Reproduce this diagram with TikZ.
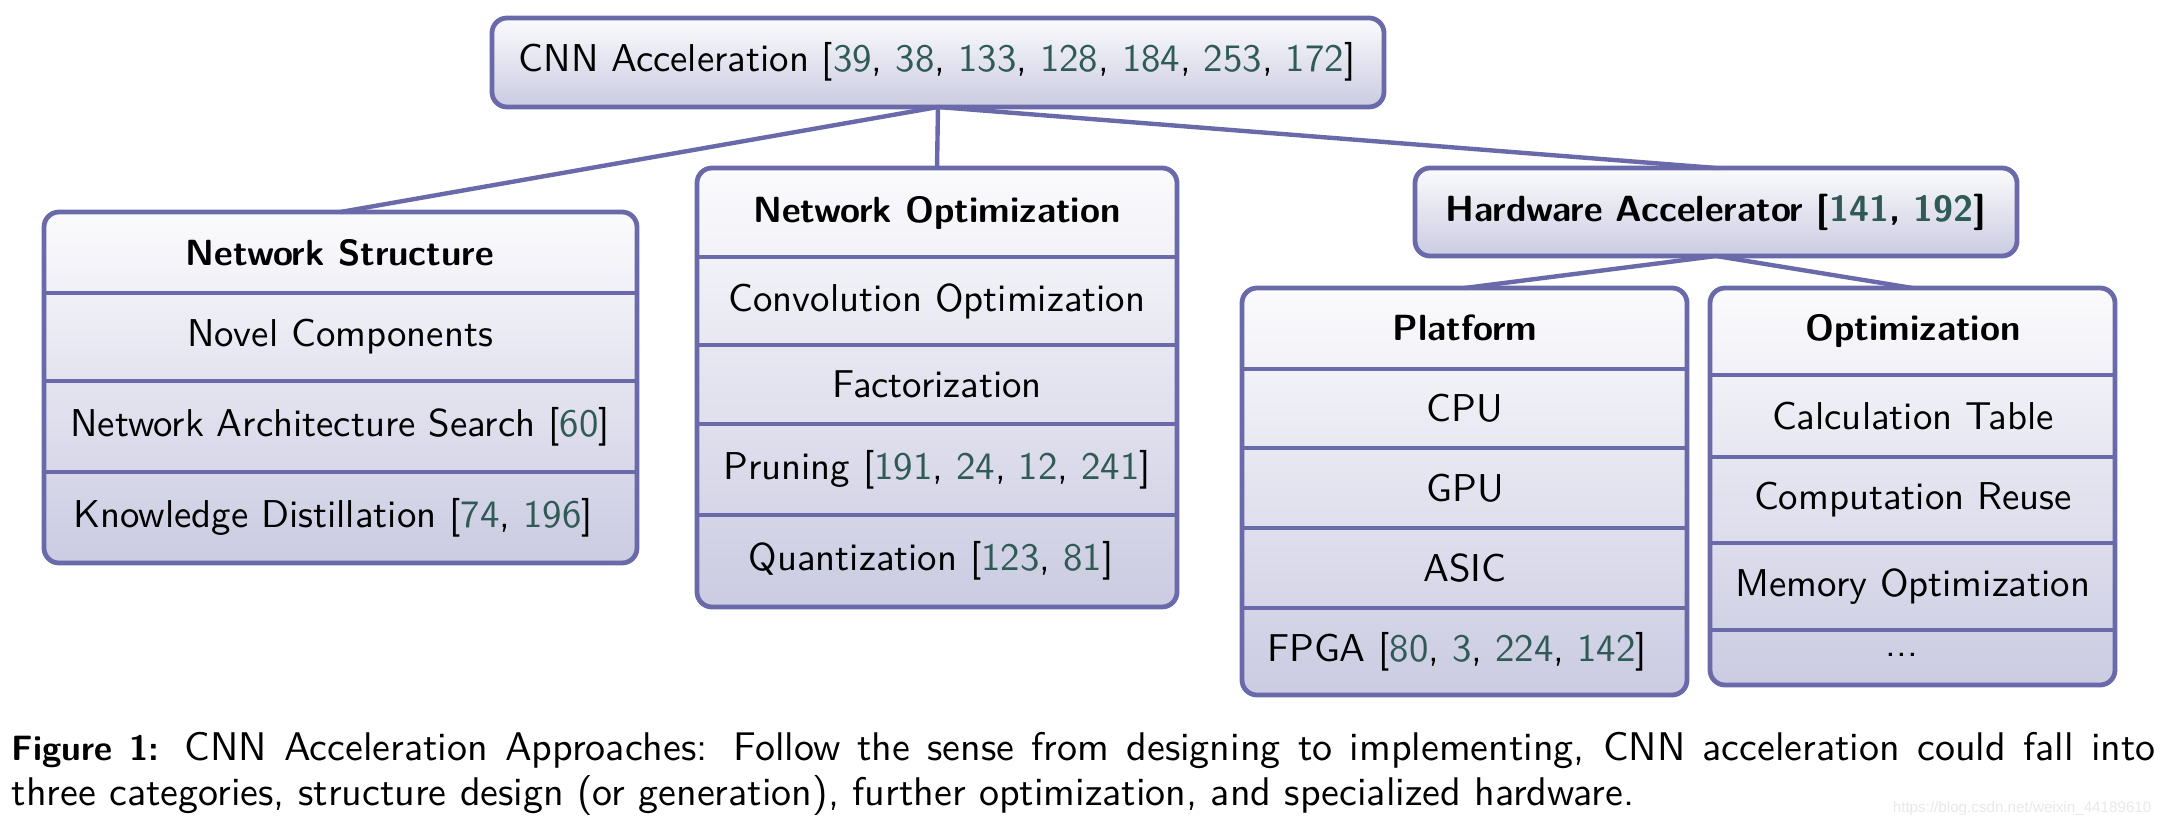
\documentclass[tikz,border=0pt]{standalone}
\usepackage{fontspec}
\usetikzlibrary{fit}
\newfontfamily\wmfont{Liberation Sans}
\definecolor{bord}{HTML}{6A6AAA}
\definecolor{ftop}{HTML}{FBFBFD}
\definecolor{fbot}{HTML}{CBCBE2}
\definecolor{citec}{HTML}{2F5A56}
\newcommand{\cit}[1]{\textcolor{citec}{#1}}
\begin{document}
\begin{tikzpicture}[x=0.25pt,y=-0.25pt,
  box/.style={draw=bord, line width=1.2pt, rounded corners=3.75pt, top color=ftop, bottom color=fbot, inner sep=0pt, outer sep=0pt},
  sepline/.style={draw=bord, line width=1pt},
  conn/.style={draw=bord, line width=1.1pt},
  txt/.style={font=\sffamily\fontsize{9.7}{11.6}\selectfont, inner sep=0pt},
  hd/.style={font=\sffamily\bfseries\fontsize{9.1}{11}\selectfont, inner sep=0pt}]
\useasboundingbox (0,0) rectangle (2173,825);

% boxes
\node[box, fit={(492,18) (1384,107)}] (root) {};
\node[box, fit={(44,212) (637,563)}] (ns) {};
\node[box, fit={(697,168) (1177,607)}] (no) {};
\node[box, fit={(1415,168) (2017,256)}] (ha) {};
\node[box, fit={(1242,288) (1687,695)}] (plat) {};
\node[box, fit={(1710,288) (2115,685)}] (opt) {};

% separators
\foreach \yy in {293,381,472} \draw[sepline] (ns.west |- 0,\yy) -- (ns.east |- 0,\yy);
\foreach \yy in {257,345,424,515} \draw[sepline] (no.west |- 0,\yy) -- (no.east |- 0,\yy);
\foreach \yy in {369,448,528,608} \draw[sepline] (plat.west |- 0,\yy) -- (plat.east |- 0,\yy);
\foreach \yy in {375,457,543,630} \draw[sepline] (opt.west |- 0,\yy) -- (opt.east |- 0,\yy);

% connectors
\draw[conn] (root.south) -- (ns.north);
\draw[conn] (root.south) -- (no.north);
\draw[conn] (root.south) -- (ha.north);
\draw[conn] (ha.south) -- (plat.north);
\draw[conn] (ha.south) -- (opt.north);

% texts
\node[txt] (roott) at (937,62) {CNN Acceleration [\cit{39}, \cit{38}, \cit{133}, \cit{128}, \cit{184}, \cit{253}, \cit{172}]};

\node[hd] (ns0) at (340,252.5) {Network Structure};
\node[txt] (ns1) at (340,337) {Novel Components};
\node[txt] (ns2) at (340,426.5) {Network Architecture Search [\cit{60}]};
\node[txt] (ns3) at (333,517.5) {Knowledge Distillation [\cit{74}, \cit{196}]};

\node[hd] (no0) at (937,212.5) {Network Optimization};
\node[txt] (no1) at (937,301) {Convolution Optimization};
\node[txt] (no2) at (937,384.5) {Factorization};
\node[txt] (no3) at (937,469.5) {Pruning [\cit{191}, \cit{24}, \cit{12}, \cit{241}]};
\node[txt] (no4) at (931,561) {Quantization [\cit{123}, \cit{81}]};

\node[hd] (hat) at (1716,212) {Hardware Accelerator [\cit{141}, \cit{192}]};

\node[hd] (pl0) at (1465,328) {Platform};
\node[txt] (pl1) at (1465,408.5) {CPU};
\node[txt] (pl2) at (1465,488) {GPU};
\node[txt] (pl3) at (1465,568) {ASIC};
\node[txt] (pl4) at (1457,651.5) {FPGA [\cit{80}, \cit{3}, \cit{224}, \cit{142}]};

\node[hd] (op0) at (1913,331) {Optimization};
\node[txt] (op1) at (1913,416) {Calculation Table};
\node[txt] (op2) at (1913,500) {Computation Reuse};
\node[txt] (op3) at (1913,586.5) {Memory Optimization};
\node[txt] (op4) at (1902,655) {...};

% caption
\node[anchor=north west, inner sep=0pt, text width=536pt, align=justify,
  font=\sffamily\fontsize{10}{11.25}\selectfont] (cap) at (11,731)
  {{\bfseries\fontsize{8.8}{11.25}\selectfont Figure 1:} CNN Acceleration Approaches: Follow the sense from designing to implementing, CNN acceleration could fall into\linebreak three categories, structure design (or generation), further optimization, and specialized hardware.};

\node[anchor=base west, inner sep=0pt, text=black!9, font=\wmfont\fontsize{3.8}{4}\selectfont] (wm) at (1892,812) {https://blog.csdn.net/weixin\_44189610};
\end{tikzpicture}
\end{document}
